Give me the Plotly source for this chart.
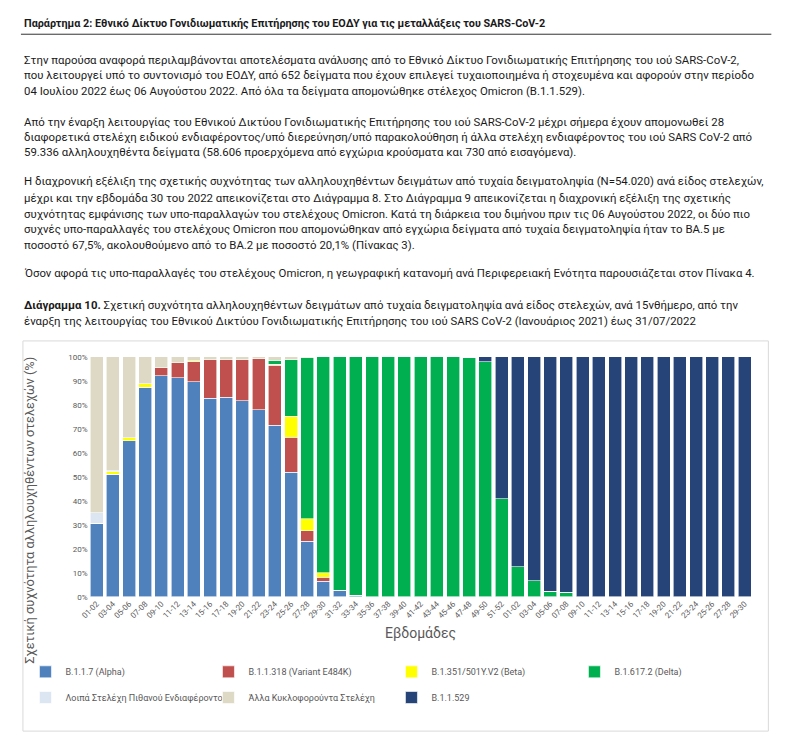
import plotly.graph_objects as go

W, H = 796, 736

# ---------------- data ----------------
weeks_2021 = ["01-02", "03-04", "05-06", "07-08", "09-10", "11-12", "13-14", "15-16", "17-18",
              "19-20", "21-22", "23-24", "25-26", "27-28", "29-30", "31-32", "33-34", "35-36",
              "37-38", "39-40", "41-42", "43-44", "45-46", "47-48", "49-50", "51-52"]
weeks_2022 = ["01-02", "03-04", "05-06", "07-08", "09-10", "11-12", "13-14", "15-16", "17-18",
              "19-20", "21-22", "23-24", "25-26", "27-28", "29-30"]
categories = ["2021 " + w for w in weeks_2021] + ["2022 " + w for w in weeks_2022]
tick_labels = weeks_2021 + weeks_2022

alpha = [30.6, 51.0, 65.0, 87.2, 92.0, 91.3, 89.6, 82.6, 83.1, 81.7, 77.9, 71.4, 51.8, 23.1, 6.5, 2.5, 0.7,
         0, 0, 0, 0, 0, 0, 0, 0, 0,
         0, 0, 0, 0, 0, 0, 0, 0, 0, 0, 0, 0, 0, 0, 0]
variant_e484k = [0, 0, 0, 0, 3.4, 6.2, 8.4, 16.2, 15.7, 17.0, 21.2, 25.0, 14.6, 4.4, 1.6, 0, 0,
                 0, 0, 0, 0, 0, 0, 0, 0, 0,
                 0, 0, 0, 0, 0, 0, 0, 0, 0, 0, 0, 0, 0, 0, 0]
beta = [0, 1.0, 1.2, 1.6, 0, 0, 0.3, 0, 0, 0, 0, 0.4, 8.8, 5.1, 1.9, 0.3, 0,
        0, 0, 0, 0, 0, 0, 0, 0, 0,
        0, 0, 0, 0, 0, 0, 0, 0, 0, 0, 0, 0, 0, 0, 0]
delta = [0, 0, 0, 0, 0, 0, 0, 0, 0, 0, 0, 1.6, 23.6, 67.0, 90.0, 97.2, 99.3,
         100, 100, 100, 100, 100, 100, 99.7, 97.9, 40.8,
         12.4, 6.6, 2.3, 1.8, 0, 0, 0, 0, 0, 0, 0, 0, 0, 0, 0]
other_interest = [4.4, 0.5, 0, 0, 0, 0, 0, 0, 0, 0, 0, 0, 0, 0, 0, 0, 0,
                  0, 0, 0, 0, 0, 0, 0, 0, 0,
                  0, 0, 0, 0, 0, 0, 0, 0, 0, 0, 0, 0, 0, 0, 0]
other_circulating = [65.0, 47.5, 33.8, 11.2, 4.6, 2.5, 1.7, 1.2, 1.2, 1.3, 0.9, 1.6, 1.2, 0.4, 0, 0, 0,
                     0, 0, 0, 0, 0, 0, 0, 0, 0,
                     0, 0, 0, 0, 0, 0, 0, 0, 0, 0, 0, 0, 0, 0, 0]
omicron = [0, 0, 0, 0, 0, 0, 0, 0, 0, 0, 0, 0, 0, 0, 0, 0, 0,
           0, 0, 0, 0, 0, 0, 0.3, 2.1, 59.2,
           87.6, 93.4, 97.7, 98.2, 100, 100, 100, 100, 100, 100, 100, 100, 100, 100, 100]

series_names = ["B.1.1.7 (Alpha)", "B.1.1.318 (Variant E484K)", "B.1.351/501Y.V2 (Beta)",
                "B.1.617.2 (Delta)", "Λοιπά Στελέχη Πιθανού Ενδιαφέροντος",
                "Άλλα Κυκλοφορούντα Στελέχη", "B.1.1.529"]
series_values = [alpha, variant_e484k, beta, delta, other_interest, other_circulating, omicron]
series_colors = ["#4F81BD", "#C0504D", "#FFFF00", "#00B050", "#DCE6F2", "#DDD9C4", "#264478"]
series_legend_rows = ["legend", "legend", "legend", "legend", "legend2", "legend2", "legend2"]

FONT = "Roboto"
TXT = "#1a1a1a"
GRAY = "#595959"


def px(x):
    return x / W


def py(y):
    return 1 - y / H


fig = go.Figure()
for name, vals, col, leg in zip(series_names, series_values, series_colors, series_legend_rows):
    fig.add_trace(go.Bar(x=categories, y=vals, name=name, marker_color=col,
                         marker_line_color="white", marker_line_width=0.6, legend=leg))

annotations = []


def text_line(x, y, s, size=11.4, color=TXT):
    annotations.append(dict(x=px(x), y=py(y), xref="paper", yref="paper", text=s,
                            showarrow=False, xanchor="left", yanchor="middle",
                            font=dict(family=FONT, size=size, color=color)))


text_line(6, 12, "<b>Παράρτημα 2: Εθνικό Δίκτυο Γονιδιωματικής Επιτήρησης του ΕΟΔΥ για τις μεταλλάξεις του SARS-CoV-2</b>", 10.8)

paragraph_lines = [
    (49, "Στην παρούσα αναφορά περιλαμβάνονται αποτελέσματα ανάλυσης από το Εθνικό Δίκτυο Γονιδιωματικής Επιτήρησης του ιού SARS-CoV-2,"),
    (64, "που λειτουργεί υπό το συντονισμό του ΕΟΔΥ, από 652 δείγματα που έχουν επιλεγεί τυχαιοποιημένα ή στοχευμένα και αφορούν στην περίοδο"),
    (80, "04 Ιουλίου 2022 έως 06 Αυγούστου 2022. Από όλα τα δείγματα απομονώθηκε στέλεχος Omicron (B.1.1.529)."),
    (111, "Από την έναρξη λειτουργίας του Εθνικού Δικτύου Γονιδιωματικής Επιτήρησης του ιού SARS-CoV-2 μέχρι σήμερα έχουν απομονωθεί 28"),
    (127, "διαφορετικά στελέχη ειδικού ενδιαφέροντος/υπό διερεύνηση/υπό παρακολούθηση ή άλλα στελέχη ενδιαφέροντος του ιού SARS CoV-2 από"),
    (142, "59.336 αλληλουχηθέντα δείγματα (58.606 προερχόμενα από εγχώρια κρούσματα και 730 από εισαγόμενα)."),
    (171, "Η διαχρονική εξέλιξη της σχετικής συχνότητας των αλληλουχηθέντων δειγμάτων από τυχαία δειγματοληψία (N=54.020) ανά είδος στελεχών,"),
    (188, "μέχρι και την εβδομάδα 30 του 2022 απεικονίζεται στο Διάγραμμα 8. Στο Διάγραμμα 9 απεικονίζεται η διαχρονική εξέλιξη της σχετικής"),
    (204, "συχνότητας εμφάνισης των υπο-παραλλαγών του στελέχους Omicron. Κατά τη διάρκεια του διμήνου πριν τις 06 Αυγούστου 2022, οι δύο πιο"),
    (220, "συχνές υπο-παραλλαγές του στελέχους Omicron που απομονώθηκαν από εγχώρια δείγματα από τυχαία δειγματοληψία ήταν το BA.5 με"),
    (236, "ποσοστό 67,5%, ακολουθούμενο από το BA.2 με ποσοστό 20,1% (Πίνακας 3)."),
    (264, "Όσον αφορά τις υπο-παραλλαγές του στελέχους Omicron, η γεωγραφική κατανομή ανά Περιφερειακή Ενότητα παρουσιάζεται στον Πίνακα 4."),
    (297, "<b>Διάγραμμα 10.</b> Σχετική συχνότητα αλληλουχηθέντων δειγμάτων από τυχαία δειγματοληψία ανά είδος στελεχών, ανά 15νθήμερο, από την"),
    (313, "έναρξη της λειτουργίας του Εθνικού Δικτύου Γονιδιωματικής Επιτήρησης του ιού SARS CoV-2 (Ιανουάριος 2021) έως 31/07/2022"),
]
for y, s in paragraph_lines:
    text_line(6, y, s)

# axis titles
annotations.append(dict(x=px(14), y=py(504), xref="paper", yref="paper",
                        text="Σχετική συχνότητα αλληλουχηθέντων στελεχών (%)", textangle=-90,
                        showarrow=False, xanchor="center", yanchor="middle",
                        font=dict(family=FONT, size=12.8, color=GRAY)))
annotations.append(dict(x=px(409), y=py(629), xref="paper", yref="paper",
                        text="Εβδομάδες", showarrow=False, xanchor="center", yanchor="middle",
                        font=dict(family=FONT, size=14, color=GRAY)))

shapes = [
    dict(type="line", xref="paper", yref="paper", x0=px(5), x1=px(763), y0=py(22.5), y1=py(22.5),
         line=dict(color="#333333", width=1)),
    dict(type="rect", xref="paper", yref="paper", x0=px(7), x1=px(760), y0=py(333), y1=py(728),
         line=dict(color="#d9d9d9", width=1)),
]

legend_common = dict(orientation="h", xanchor="left", yanchor="middle",
                     entrywidth=138, entrywidthmode="pixels", traceorder="normal",
                     font=dict(family=FONT, size=9, color=GRAY), itemwidth=30,
                     bgcolor="rgba(0,0,0,0)")

fig.update_layout(
    width=W, height=H,
    margin=dict(l=0, r=0, t=0, b=0),
    paper_bgcolor="white", plot_bgcolor="white",
    barmode="stack", bargap=0.2,
    font=dict(family=FONT, color=GRAY),
    xaxis=dict(domain=[px(73.3), px(744.2)], tickmode="array", tickvals=categories,
               ticktext=tick_labels, tickangle=-45, tickfont=dict(size=8, color=GRAY),
               showline=False, ticks="", showgrid=False, anchor="y"),
    yaxis=dict(domain=[py(592), py(349)], range=[0, 100], dtick=10, ticksuffix="%",
               tickfont=dict(size=8, color=GRAY), showgrid=False, zeroline=False,
               showline=False, ticks="", anchor="x"),
    legend=dict(x=0.012, y=py(668), **legend_common),
    legend2=dict(x=0.012, y=py(694), **legend_common),
    annotations=annotations,
    shapes=shapes,
)

fig.write_html("out.html")
